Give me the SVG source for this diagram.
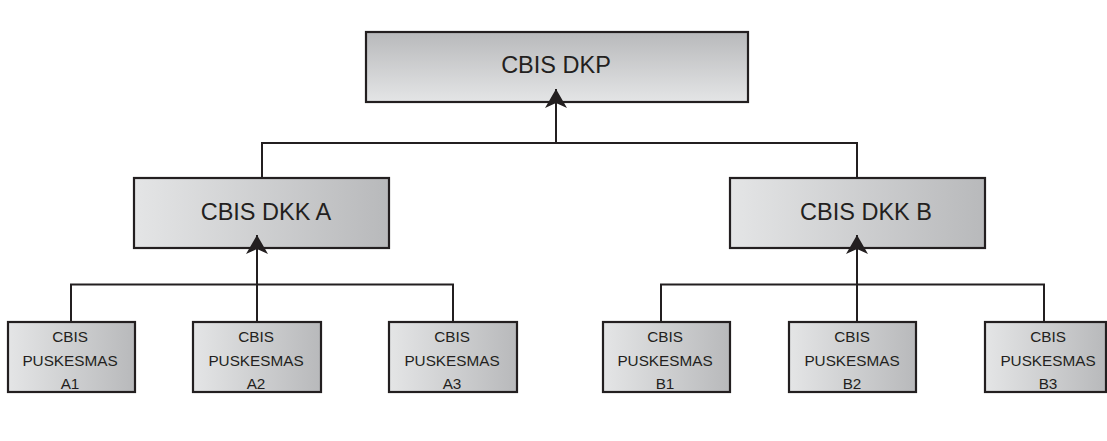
<svg xmlns="http://www.w3.org/2000/svg" width="1107" height="441" viewBox="0 0 1107 441">
  <defs>
    <linearGradient id="gv" x1="0" y1="0" x2="0" y2="1">
      <stop offset="0" stop-color="#b8b9bb"/>
      <stop offset="1" stop-color="#e4e5e6"/>
    </linearGradient>
    <linearGradient id="gh" x1="0" y1="0" x2="1" y2="0">
      <stop offset="0" stop-color="#e4e5e6"/>
      <stop offset="1" stop-color="#b8b9bb"/>
    </linearGradient>
    <marker id="arr" viewBox="0 0 20 22" refX="19" refY="11" markerWidth="20" markerHeight="22" markerUnits="userSpaceOnUse" orient="auto">
      <path d="M19,11 L0,0 L5,11 L0,22 Z" fill="#231f20"/>
    </marker>
  </defs>
  <style>
    .box { stroke: #231f20; stroke-width: 2.2; }
    .top { fill: url(#gv); }
    .side { fill: url(#gh); }
    .big { font-family: "Liberation Sans", Arial, sans-serif; font-size: 23.5px; fill: #231f20; text-anchor: middle; }
    .small { font-family: "Liberation Sans", Arial, sans-serif; font-size: 15.3px; fill: #231f20; text-anchor: middle; }
    .conn { fill: none; stroke: #231f20; stroke-width: 2; }
  </style>
  <rect width="1107" height="441" fill="#ffffff"/>

  <g id="dkp">
    <rect class="box top" x="366" y="32" width="382" height="70"/>
    <text class="big" x="556" y="72.5">CBIS DKP</text>
  </g>
  <g id="dkk-a">
    <rect class="box side" x="134" y="178" width="255" height="70"/>
    <text class="big" x="266" y="220">CBIS DKK A</text>
  </g>
  <g id="dkk-b">
    <rect class="box side" x="730" y="178" width="255" height="70"/>
    <text class="big" x="866" y="220">CBIS DKK B</text>
  </g>

  <g id="a1">
    <rect class="box side" x="8" y="322" width="127" height="70"/>
    <text class="small" x="70" y="342">CBIS</text>
    <text class="small" x="70" y="365.5">PUSKESMAS</text>
    <text class="small" x="70" y="388.5">A1</text>
  </g>
  <g id="a2">
    <rect class="box side" x="193" y="322" width="128" height="70"/>
    <text class="small" x="256" y="342">CBIS</text>
    <text class="small" x="256" y="365.5">PUSKESMAS</text>
    <text class="small" x="256" y="388.5">A2</text>
  </g>
  <g id="a3">
    <rect class="box side" x="389" y="322" width="128" height="70"/>
    <text class="small" x="452" y="342">CBIS</text>
    <text class="small" x="452" y="365.5">PUSKESMAS</text>
    <text class="small" x="452" y="388.5">A3</text>
  </g>
  <g id="b1">
    <rect class="box side" x="603" y="322" width="127" height="70"/>
    <text class="small" x="665" y="342">CBIS</text>
    <text class="small" x="665" y="365.5">PUSKESMAS</text>
    <text class="small" x="665" y="388.5">B1</text>
  </g>
  <g id="b2">
    <rect class="box side" x="789" y="322" width="127" height="70"/>
    <text class="small" x="852" y="342">CBIS</text>
    <text class="small" x="852" y="365.5">PUSKESMAS</text>
    <text class="small" x="852" y="388.5">B2</text>
  </g>
  <g id="b3">
    <rect class="box side" x="985" y="322" width="121" height="70"/>
    <text class="small" x="1048" y="342">CBIS</text>
    <text class="small" x="1048" y="365.5">PUSKESMAS</text>
    <text class="small" x="1048" y="388.5">B3</text>
  </g>

  <g id="connectors">
    <polyline class="conn" points="262,178 262,143 857,143 857,178"/>
    <line class="conn" x1="556" y1="143" x2="556" y2="89" marker-end="url(#arr)"/>
    <polyline class="conn" points="71,322 71,284.5 453,284.5 453,322"/>
    <line class="conn" x1="257" y1="322" x2="257" y2="235" marker-end="url(#arr)"/>
    <polyline class="conn" points="661,322 661,284.5 1044,284.5 1044,322"/>
    <line class="conn" x1="857" y1="322" x2="857" y2="235" marker-end="url(#arr)"/>
  </g>
</svg>
